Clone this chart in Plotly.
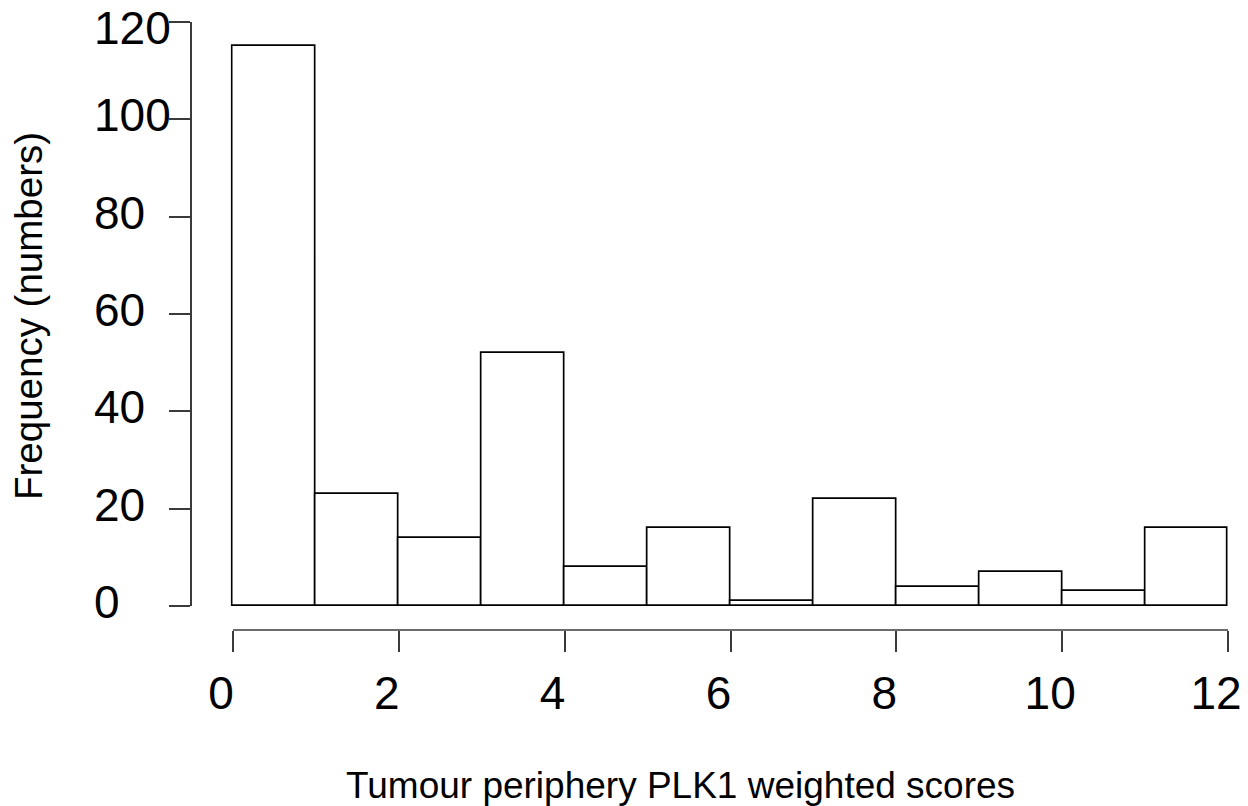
import plotly.graph_objects as go

# Histogram data (bin width 1, from 0 to 12)
bin_left = [0, 1, 2, 3, 4, 5, 6, 7, 8, 9, 10, 11]
counts = [115, 23, 14, 52, 8, 16, 1, 22, 4, 7, 3, 16]
x_ticks = [0, 2, 4, 6, 8, 10, 12]
y_ticks = [0, 20, 40, 60, 80, 100, 120]
x_title = "Tumour periphery PLK1 weighted scores"
y_title = "Frequency (numbers)"

W, H = 1248, 806
ML, MR, MT, MB = 191, 12, 22, 176
PW = W - ML - MR
PH = H - MT - MB

X0_PX, X12_PX = 233, 1228      # pixel positions of x=0 and x=12
PAD = 0.03                     # small range padding so bar edges aren't clipped
scale = (X12_PX - X0_PX) / 12.0
dom_l = (X0_PX - PAD * scale - ML) / PW
dom_r = min(1.0, (X12_PX + PAD * scale - ML) / PW)

FONT = "Liberation Sans, Arial, sans-serif"
AXC = "#3a3a3a"

fig = go.Figure()
fig.add_trace(go.Bar(
    x=[b + 0.5 for b in bin_left],
    y=counts,
    width=[1] * len(counts),
    marker=dict(color="white", line=dict(color="black", width=1.7)),
    hoverinfo="x+y",
    showlegend=False,
))

annotations = []
for v in y_ticks:
    annotations.append(dict(
        x=(92 - ML) / PW, xref="paper", y=v, yref="y",
        xanchor="left", yanchor="middle",
        yshift=(-6 if v == max(y_ticks) else 4),
        text=str(v), showarrow=False,
        font=dict(family=FONT, size=46, color="black"),
    ))
annotations.append(dict(
    x=(680 - ML) / PW, xref="paper", y=(MT + PH - 785) / PH, yref="paper",
    xanchor="center", yanchor="middle", text=x_title, showarrow=False,
    font=dict(family=FONT, size=37, color="black"),
))
annotations.append(dict(
    x=(28 - ML) / PW, xref="paper", y=(MT + PH - 316) / PH, yref="paper",
    xanchor="center", yanchor="middle", text=y_title, showarrow=False,
    textangle=-90, font=dict(family=FONT, size=38.5, color="black"),
))

fig.update_layout(
    width=W, height=H,
    margin=dict(l=ML, r=MR, t=MT, b=MB, pad=0, autoexpand=False),
    paper_bgcolor="white", plot_bgcolor="white",
    bargap=0,
    font=dict(family=FONT, color="black"),
    xaxis=dict(
        domain=[dom_l, dom_r], range=[-PAD, 12 + PAD],
        anchor="free", position=0, automargin=False,
        showline=False,
        ticks="outside", ticklen=21, tickwidth=1.6, tickcolor=AXC,
        tickvals=x_ticks, ticktext=[str(t) for t in x_ticks],
        tickfont=dict(family=FONT, size=46, color="black"),
        ticklabelshift=-12, ticklabelstandoff=2,
        showgrid=False, zeroline=False, fixedrange=True,
    ),
    yaxis=dict(
        domain=[(MT + PH - 606) / PH, 1], range=[0, 120],
        anchor="free", position=0, automargin=False,
        showline=True, linecolor=AXC, linewidth=1.6,
        ticks="outside", ticklen=21, tickwidth=1.6, tickcolor=AXC,
        tickvals=y_ticks, showticklabels=False,
        showgrid=False, zeroline=False, fixedrange=True,
    ),
    shapes=[dict(
        type="line", xref="x", yref="paper",
        x0=min(x_ticks), x1=max(x_ticks), y0=0, y1=0,
        line=dict(color=AXC, width=1.6),
    )],
    annotations=annotations,
)

fig.write_html(
    "out.html",
    config={"displayModeBar": False},
    post_script="document.body.style.margin='0';document.body.style.overflow='hidden';",
)
